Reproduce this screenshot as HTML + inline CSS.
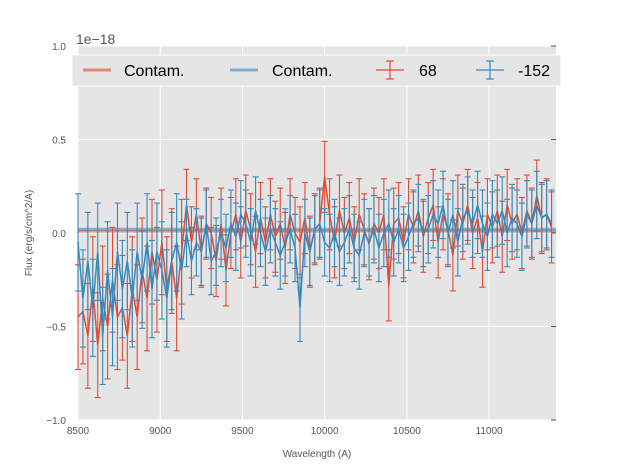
<!DOCTYPE html>
<html><head><meta charset="utf-8"><style>
body{margin:0;background:#fff;}
svg{display:block;font-family:"Liberation Sans",sans-serif;}
</style></head><body>
<svg id="chart" width="617" height="467">
<rect x="78" y="46" width="478" height="374" fill="#e5e5e5"/>
<g id="grid"></g>
<g id="ticks"></g>
<g id="marks"></g>
<text x="76" y="44" font-size="14" fill="#555">1e−18</text>
<text x="317" y="457" font-size="10" fill="#555" text-anchor="middle">Wavelength (A)</text>
<text transform="translate(32,233) rotate(-90)" font-size="10" fill="#555" text-anchor="middle">Flux (erg/s/cm^2/A)</text>
<g>
<rect x="72" y="55" width="489" height="31" fill="#e5e5e5" stroke="#fff" stroke-width="1"/>
<line x1="83" y1="70" x2="111" y2="70" stroke="#E24A33" stroke-width="3" opacity="0.6"/>
<text x="124" y="76" font-size="16">Contam.</text>
<line x1="230" y1="70" x2="258" y2="70" stroke="#348ABD" stroke-width="3" opacity="0.6"/>
<text x="272" y="76" font-size="16">Contam.</text>
<g stroke="#E24A33" stroke-width="1.2"><line x1="376" y1="70" x2="404" y2="70"/><line x1="390" y1="61" x2="390" y2="79"/><line x1="386" y1="61" x2="394" y2="61"/><line x1="386" y1="79" x2="394" y2="79"/></g>
<text x="419" y="76" font-size="16">68</text>
<g stroke="#348ABD" stroke-width="1.2"><line x1="476" y1="70" x2="504" y2="70"/><line x1="490" y1="61" x2="490" y2="79"/><line x1="486" y1="61" x2="494" y2="61"/><line x1="486" y1="79" x2="494" y2="79"/></g>
<text x="518" y="76" font-size="16">-152</text>
</g>
</svg>
<script>
const xStart=8500, xStep=30;
const redValues=[-0.45,-0.42,-0.55,-0.3,-0.6,-0.35,-0.5,-0.25,-0.45,-0.4,-0.55,
-0.3,-0.45,-0.2,-0.35,-0.1,-0.25,-0.05,-0.3,-0.15,-0.35,
-0.1,0.15,-0.05,0.1,-0.1,0.05,0.0,-0.15,0.05,-0.2,
0.0,0.1,-0.05,0.12,0.02,-0.1,0.08,-0.05,0.1,-0.02,
0.05,-0.08,0.1,0.0,-0.05,0.08,-0.1,0.02,0.05,0.3,
0.1,-0.05,0.12,0.0,0.08,-0.05,0.1,0.02,-0.06,0.05,
0.0,0.1,-0.28,0.05,0.08,-0.05,0.1,0.03,0.12,-0.02,
0.08,0.15,-0.05,0.1,0.02,-0.12,0.12,0.05,0.15,0.0,
0.08,-0.1,0.1,0.03,0.12,-0.02,0.15,0.05,0.1,0.0,
0.12,0.05,0.2,0.08,0.1,0.03];
const blueValues=[-0.05,-0.35,-0.15,-0.4,-0.1,-0.55,-0.2,-0.45,-0.1,-0.3,-0.15,
-0.35,-0.1,-0.25,-0.05,-0.3,-0.1,-0.2,-0.35,-0.15,-0.05,
-0.2,0.0,-0.15,-0.05,-0.1,0.05,-0.15,-0.1,0.0,-0.08,
0.05,-0.02,0.1,0.05,-0.05,0.12,0.0,-0.1,0.02,-0.05,
-0.12,-0.05,0.02,-0.08,-0.4,0.0,-0.1,0.02,0.05,-0.05,
-0.08,0.0,-0.1,-0.05,0.02,-0.08,-0.12,0.0,-0.05,0.02,
-0.08,0.0,0.05,-0.05,0.02,-0.08,-0.02,0.05,0.08,0.0,
0.02,0.1,0.05,0.15,0.0,0.1,-0.05,0.08,0.12,0.05,
0.15,0.05,-0.02,0.1,0.05,0.12,0.0,0.08,0.05,-0.02,
0.1,0.05,0.15,0.08,0.1,0.05];
const redErrEarly=0.28, redErrLate=0.19, blueErrEarly=0.26, blueErrLate=0.18, errSwitch=9150;
const redContam=0.01, blueContam=0.02;
const xTicks=[8500,9000,9500,10000,10500,11000];
const yTicks=[-1.0,-0.5,0.0,0.5,1.0];
const yTickLabels=["−1.0","−0.5","0.0","0.5","1.0"];

const NS="http://www.w3.org/2000/svg";
const X0=78,X1=556,Y0=46,Y1=420,XMIN=8500,XMAX=11407,YMIN=-1,YMAX=1;
const sx=v=>X0+(v-XMIN)/(XMAX-XMIN)*(X1-X0);
const sy=v=>Y1-(v-YMIN)/(YMAX-YMIN)*(Y1-Y0);
function mk(tag,attrs,parent){const e=document.createElementNS(NS,tag);for(const k in attrs)e.setAttribute(k,attrs[k]);parent.appendChild(e);return e;}
const grid=document.getElementById('grid'),ticks=document.getElementById('ticks'),marks=document.getElementById('marks');
xTicks.forEach(t=>{
 const l=mk('line',{x1:sx(t),x2:sx(t),y1:Y0,y2:Y1,stroke:'#fff','stroke-width':1},grid);
 
 
 const tx=mk('text',{x:sx(t),y:Y1+14,'font-size':10,fill:'#555','text-anchor':'middle'},ticks);
 tx.textContent=t;
 
 
});
yTicks.forEach((t,i)=>{
 const l=mk('line',{x1:X0,x2:X1,y1:sy(t),y2:sy(t),stroke:'#fff','stroke-width':1},grid);
 
 
 mk('line',{x1:X1-5,x2:X1,y1:sy(t),y2:sy(t),stroke:'#555'},ticks);
 const tx=mk('text',{x:X0-12,y:sy(t)+4,'font-size':10,fill:'#555','text-anchor':'end'},ticks);
 tx.textContent=yTickLabels[i];
 
 
});
function contam(v,color,name){
 const l=mk('line',{x1:X0,x2:X1,y1:sy(v),y2:sy(v),stroke:color,'stroke-width':3,opacity:0.55},marks);
 
 
}
function series(vals,eEarly,eLate,color,name){
 const g=mk('g',{stroke:color,'stroke-width':1.1,fill:'none'},marks);
 
 
 let d='';
 vals.forEach((v,i)=>{
  const w=xStart+i*xStep,x=sx(w),e=w<errSwitch?eEarly:eLate;
  const a=sy(v+e),b=sy(v-e);
  mk('line',{x1:x,x2:x,y1:a,y2:b},g);
  mk('line',{x1:x-3,x2:x+3,y1:a,y2:a},g);
  mk('line',{x1:x-3,x2:x+3,y1:b,y2:b},g);
  d+=(i?'L':'M')+x.toFixed(1)+' '+sy(v).toFixed(1);
 });
 const p=mk('path',{d:d,'stroke-width':1.5},g);
 
 
}
contam(redContam,'#E24A33','contam-red-line');
contam(blueContam,'#348ABD','contam-blue-line');
series(redValues,redErrEarly,redErrLate,'#E24A33','series-68');
series(blueValues,blueErrEarly,blueErrLate,'#348ABD','series-minus152');
</script>
</body></html>
